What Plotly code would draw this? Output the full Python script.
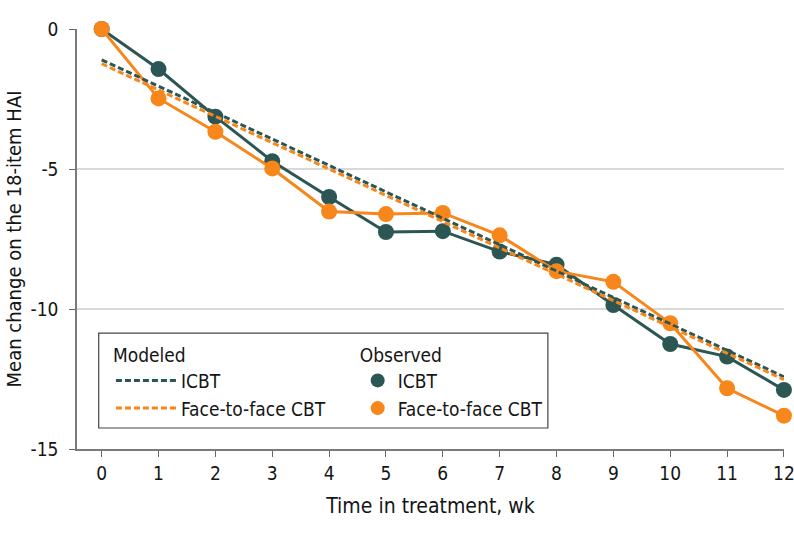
import plotly.graph_objects as go

weeks = [0, 1, 2, 3, 4, 5, 6, 7, 8, 9, 10, 11, 12]
icbt_observed = [0, -1.43, -3.13, -4.72, -6.0, -7.25, -7.22, -7.95, -8.42, -9.86, -11.25, -11.70, -12.89]
f2f_observed = [0, -2.48, -3.67, -4.98, -6.52, -6.61, -6.57, -7.37, -8.65, -9.03, -10.51, -12.83, -13.81]
model_weeks = [0, 12]
icbt_modeled = [-1.10, -12.42]
f2f_modeled = [-1.24, -12.52]
y_ticks = [0, -5, -10, -15]
y_tick_labels = ["0", "-5", "-10", "-15"]

ICBT_COLOR = "#2b5653"
F2F_COLOR = "#f7861b"
FONT = "DejaVu Sans Condensed, Liberation Sans Narrow, Roboto, sans-serif"

fig = go.Figure()

fig.add_trace(go.Scatter(x=weeks, y=icbt_observed, mode="lines+markers",
                         line=dict(color=ICBT_COLOR, width=3),
                         marker=dict(color=ICBT_COLOR, size=16),
                         showlegend=False, cliponaxis=False))
fig.add_trace(go.Scatter(x=weeks, y=f2f_observed, mode="lines+markers",
                         line=dict(color=F2F_COLOR, width=3),
                         marker=dict(color=F2F_COLOR, size=16),
                         showlegend=False, cliponaxis=False))
fig.add_trace(go.Scatter(x=model_weeks, y=icbt_modeled, mode="lines",
                         line=dict(color=ICBT_COLOR, width=3, dash="6px,3px"),
                         name="ICBT", legend="legend", cliponaxis=False))
fig.add_trace(go.Scatter(x=model_weeks, y=f2f_modeled, mode="lines",
                         line=dict(color=F2F_COLOR, width=3, dash="6px,3px"),
                         name="Face-to-face CBT", legend="legend", cliponaxis=False))
# legend entries for observed series
fig.add_trace(go.Scatter(x=[None], y=[None], mode="markers",
                         marker=dict(color=ICBT_COLOR, size=14),
                         name="ICBT", legend="legend2"))
fig.add_trace(go.Scatter(x=[None], y=[None], mode="markers",
                         marker=dict(color=F2F_COLOR, size=14),
                         name="Face-to-face CBT", legend="legend2"))

fig.update_layout(
    width=794, height=535,
    margin=dict(l=77, r=10, t=29, b=86, autoexpand=False),
    plot_bgcolor="white", paper_bgcolor="white",
    font=dict(family=FONT, size=19, color="#151515"),
    xaxis=dict(range=[-0.434, 12.001], tickvals=weeks, ticks="outside", ticklen=6,
               tickcolor="#666666", showline=True, linecolor="#7a7a7a", linewidth=1.5,
               showgrid=False, zeroline=False, ticklabeloverflow="allow", automargin=False,
               title=dict(text="Time in treatment, wk", standoff=16, font=dict(size=21)),
               tickfont=dict(size=19)),
    yaxis=dict(range=[-15, 0], tickvals=y_ticks, ticktext=y_tick_labels,
               ticks="outside", ticklen=6, automargin=False,
               tickcolor="#666666", showline=True, linecolor="#7a7a7a", linewidth=1.5,
               showgrid=True, gridcolor="#d9d9d9", gridwidth=1.5, zeroline=False,
               ticklabelstandoff=7,
               title=dict(text="Mean change on the 18-item HAI", standoff=4, font=dict(size=20)),
               tickfont=dict(size=19)),
    legend=dict(x=0.048, y=0.267, xanchor="left", yanchor="top",
                bgcolor="rgba(0,0,0,0)", borderwidth=0,
                title=dict(text="Modeled", side="top", font=dict(size=19)),
                font=dict(size=19), tracegroupgap=0, itemwidth=60),
    legend2=dict(x=0.397, y=0.267, xanchor="left", yanchor="top",
                 bgcolor="rgba(0,0,0,0)", borderwidth=0,
                 title=dict(text="Observed", side="top", font=dict(size=19)),
                 font=dict(size=19), tracegroupgap=0, itemwidth=30),
    shapes=[dict(type="rect", xref="paper", yref="paper",
                 x0=0.0307, x1=0.666, y0=0.05, y1=0.276,
                 line=dict(color="#444444", width=1.2), fillcolor="white", layer="below")],
)

fig.write_html("out.html", config={"displayModeBar": False},
               post_script="document.body.style.margin='0';document.body.style.overflow='hidden';")
